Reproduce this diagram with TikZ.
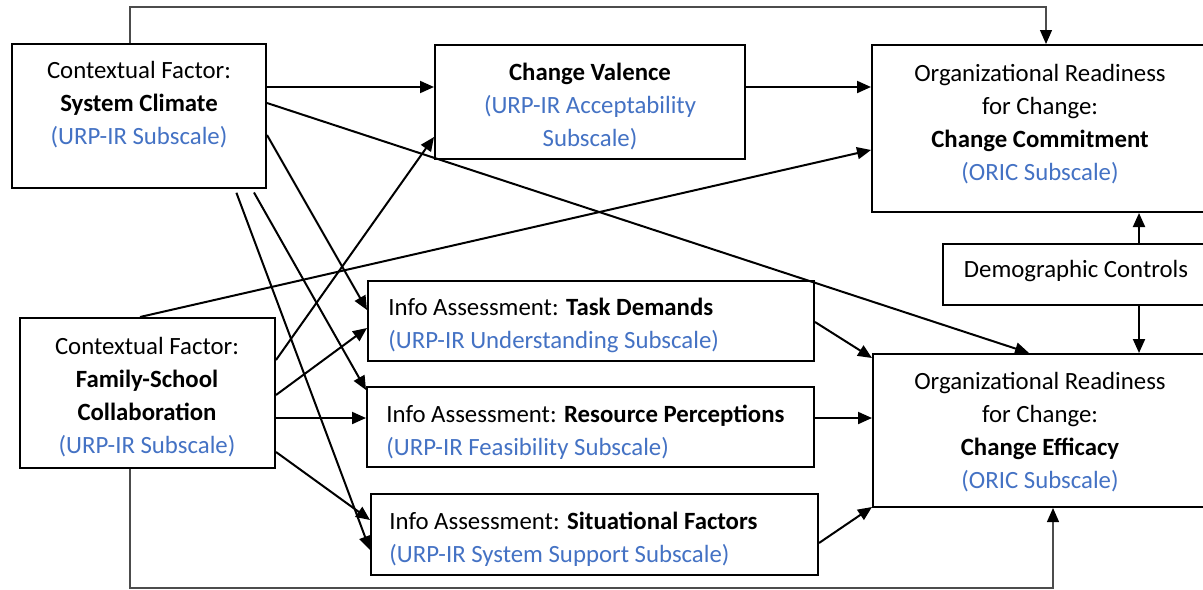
\documentclass[tikz,border=0pt]{standalone}
\usepackage{fontspec}
\setmainfont{Carlito}
\usetikzlibrary{arrows.meta,fit}
\definecolor{accblue}{RGB}{68,114,196}
\begin{document}
\begin{tikzpicture}[x=0.5pt,y=-0.5pt,
  box/.style={draw, line width=1pt, inner sep=0pt},
  txt/.style={inner sep=0pt, font=\fontsize{12.4pt}{16.5pt}\selectfont, align=center},
  arr/.style={line width=1pt, -{Triangle[length=7pt,width=6pt]}},
  fb/.style={line width=0.6pt, draw=black!70, -{Triangle[length=7pt,width=6pt,color=black]}},
  sub/.style={color=accblue}]
\useasboundingbox (0,0) rectangle (1203,589);
\clip (0,0) rectangle (1203,589);
\fill[white] (0,0) rectangle (1203,589);

% boxes
\node[box, fit={(12,44) (266,188)}] (SC) {};
\node[box, fit={(20,318) (275,468)}] (FSC) {};
\node[box, fit={(435,45) (745,159)}] (CV) {};
\node[box, fit={(872,45) (1220,212)}] (CC) {};
\node[box, fit={(943,244) (1220,305)}] (DC) {};
\node[box, fit={(873,354) (1220,507)}] (CE) {};
\node[box, fit={(368,281) (814,361)}] (TD) {};
\node[box, fit={(367,387) (814,467)}] (RP) {};
\node[box, fit={(371,494) (818,575)}] (SF) {};

% texts
\node[txt] (SCt) at (139,105) {Contextual Factor:\\\textbf{System Climate}\\\textcolor{accblue}{(URP-IR Subscale)}};
\node[txt] (FSCt) at (147,397) {Contextual Factor:\\\textbf{Family-School}\\\textbf{Collaboration}\\\textcolor{accblue}{(URP-IR Subscale)}};
\node[txt] (CVt) at (590,107) {\textbf{Change Valence}\\\textcolor{accblue}{(URP-IR Acceptability}\\\textcolor{accblue}{Subscale)}};
\node[txt] (CCt) at (1040,124) {Organizational Readiness\\for Change:\\\textbf{Change Commitment}\\\textcolor{accblue}{(ORIC Subscale)}};
\node[txt] (CEt) at (1040,432) {Organizational Readiness\\for Change:\\\textbf{Change Efficacy}\\\textcolor{accblue}{(ORIC Subscale)}};
\node[txt] (DCt) at (1076,271) {Demographic Controls};
\node[txt, align=left, anchor=west] (TDt) at (388,325) {Info Assessment: \textbf{Task Demands}\\\textcolor{accblue}{(URP-IR Understanding Subscale)}};
\node[txt, align=left, anchor=west] (RPt) at (386,432) {Info Assessment: \textbf{Resource Perceptions}\\\textcolor{accblue}{(URP-IR Feasibility Subscale)}};
\node[txt, align=left, anchor=west] (SFt) at (389,539) {Info Assessment: \textbf{Situational Factors}\\\textcolor{accblue}{(URP-IR System Support Subscale)}};

% feedback lines
\draw[fb] (SC.north -| 130,0) -- (130,7) -- (1046,7) -- (CC.north -| 1046,0);
\draw[fb] (FSC.south -| 130,0) -- (130,588) -- (1053,588) -- (CE.south -| 1053,0);

% connectors
\draw[arr] (SC.east |- 0,87) -- (CV.west |- 0,87);
\draw[arr] (CV.east |- 0,87) -- (CC.west |- 0,87);
\draw[arr] (SC.east |- 0,103) -- (CE.north -| 1029,0);
\draw[arr] (FSC.north -| 140,0) -- (CC.west |- 0,150);
\draw[arr] (FSC.east |- 0,360) -- (CV.west |- 0,137);
\draw[arr] (SC.east |- 0,135) -- (TD.west |- 0,310);
\draw[arr] (FSC.east |- 0,395) -- (TD.west |- 0,328);
\draw[arr, shorten <=2pt] (SC.south -| 252,0) -- (RP.west |- 0,390);
\draw[arr, shorten <=2pt] (SC.south -| 235,0) -- (SF.west |- 0,550);
\draw[arr] (FSC.east |- 0,418) -- (RP.west |- 0,418);
\draw[arr] (FSC.east |- 0,452) -- (SF.west |- 0,520);
\draw[arr] (TD.east |- 0,322) -- (CE.west |- 0,358);
\draw[arr] (RP.east |- 0,418) -- (CE.west |- 0,418);
\draw[arr] (SF.east |- 0,543) -- (CE.west |- 0,507);
\draw[arr] (DC.north -| 1139,0) -- (CC.south -| 1139,0);
\draw[arr] (DC.south -| 1139,0) -- (CE.north -| 1139,0);
\end{tikzpicture}
\end{document}
